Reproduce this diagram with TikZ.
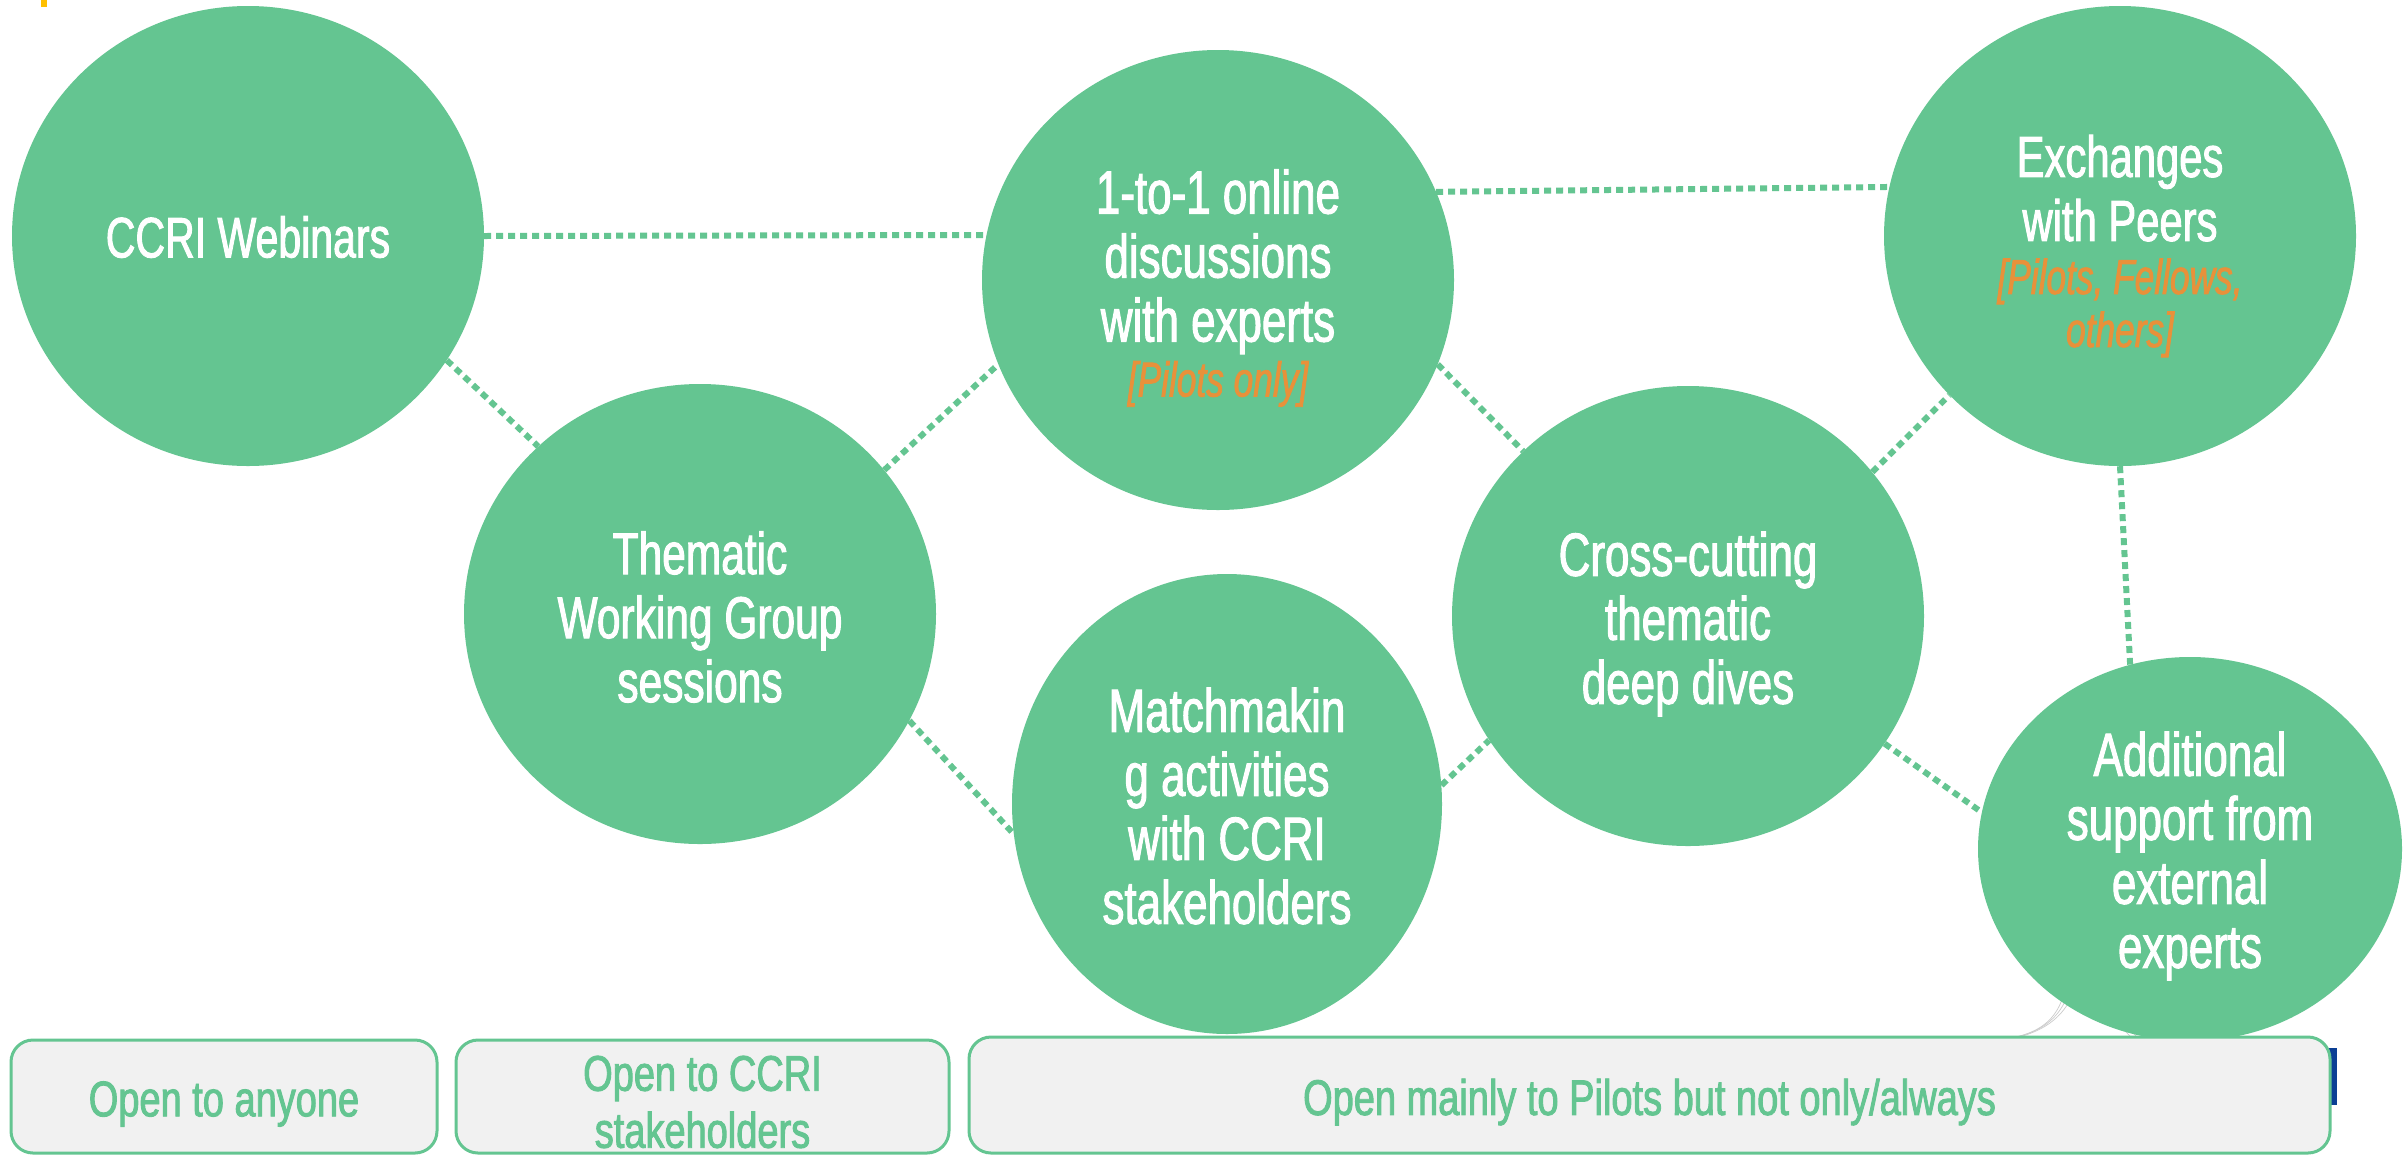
\documentclass[tikz,border=0pt]{standalone}
\usepackage{fontspec}
\setmainfont{Liberation Sans}[FakeStretch=0.8,FakeBold=1.6]
\newfontfamily\bubfont{Liberation Sans}[FakeStretch=0.72,FakeBold=1.6]
\newfontfamily\boxfont{Liberation Sans}[FakeStretch=0.76,FakeBold=1.8]
\usetikzlibrary{shapes.geometric,backgrounds,calc}
\definecolor{bubgreen}{HTML}{64C591}
\definecolor{noteorange}{HTML}{E8913A}
\definecolor{boxgray}{HTML}{F1F1F1}
\definecolor{barblue}{HTML}{0B3F94}
\definecolor{markyellow}{HTML}{FFC000}
\newcommand\orng[1]{{\color{noteorange}\itshape\fontsize{49}{52}\selectfont #1}}
\begin{document}
\begin{tikzpicture}[x=1pt,y=-1pt,
  bub/.style={ellipse, fill=bubgreen, draw=none, inner sep=0pt},
  bubtext/.style={text=white, align=center, inner sep=0pt,
    font=\bubfont\fontsize{61}{64}\selectfont},
  link/.style={draw=bubgreen, line width=6pt, dash pattern=on 7pt off 5pt},
  optbox/.style={rectangle, rounded corners=22pt, draw=bubgreen, line width=3pt,
    fill=boxgray, inner sep=0pt},
  boxtext/.style={text=bubgreen, align=center, inner sep=0pt,
    font=\boxfont\fontsize{50}{57}\selectfont},
  faint/.style={draw=black!20, line width=0.7pt}
]
\useasboundingbox (0,0) rectangle (2405,1157);

% bubbles
\node[bub, minimum width=472pt, minimum height=460pt] (web) at (248,236) {};
\node[bub, minimum width=472pt, minimum height=460pt] (twg) at (700,614) {};
\node[bub, minimum width=472pt, minimum height=460pt] (one) at (1218,280) {};
\node[bub, minimum width=430pt, minimum height=460pt] (match) at (1227,804) {};
\node[bub, minimum width=472pt, minimum height=460pt] (deep) at (1688,616) {};
\node[bub, minimum width=472pt, minimum height=460pt] (peer) at (2120,236) {};
\node[bub, minimum width=424pt, minimum height=384pt] (extra) at (2190,849) {};

% bubble texts
\node[bubtext, font=\bubfont\fontsize{57}{64}\selectfont] (web-t) at (248,237) {CCRI Webinars};
\node[bubtext, font=\bubfont\fontsize{59}{64}\selectfont] (twg-t) at (700,617) {Thematic\\Working Group\\sessions};
\node[bubtext] (one-t) at (1218,288) {1-to-1 online\\discussions\\with experts\\[-9pt]\orng{[Pilots only]}};
\node[bubtext] (match-t) at (1227,806) {Matchmakin\\g activities\\with CCRI\\stakeholders};
\node[bubtext] (deep-t) at (1688,624) {Cross-cutting\\thematic\\deep dives};
\node[bubtext, font=\bubfont\fontsize{58}{64}\selectfont] (peer-t) at (2120,246) {Exchanges\\with Peers\\[-11pt]\orng{[Pilots, Fellows,}\\[-11pt]\orng{others]}};
\node[bubtext] (extra-t) at (2190,856) {Additional\\support from\\external\\experts};

% connectors and small marks behind
\begin{pgfonlayer}{background}
\fill[white] (0,0) rectangle (2405,1157);
\draw[link] (web.0) -- (one.169.5);
\draw[link] (one.22.5) -- (peer.168.7);
\draw[link] (web.-32.6) -- (twg.134.5);
\draw[link] (twg.38.1) -- (one.201.4);
\draw[link] (twg.-27.3) -- (match.188.5);
\draw[link] (one.-21) -- (deep.135.3);
\draw[link] (match.5) -- (deep.212.2);
\draw[link] (deep.38.1) -- (peer.223.5);
\draw[link] (deep.-33.2) -- (extra.170.6);
\draw[link] (peer.south) -- (extra.108);
\fill[barblue] (2329,1048) rectangle (2337,1105);
\fill[markyellow] (41,0) rectangle (47,7);
\draw[faint] (1995,1040) .. controls (2045,1036) and (2060,1015) .. (2066,985);
\draw[faint] (2000,1040) .. controls (2048,1034) and (2063,1012) .. (2070,988);
\draw[faint] (2005,1040) .. controls (2052,1032) and (2066,1010) .. (2074,992);
\draw[faint] (2106,985) .. controls (2110,1010) and (2118,1025) .. (2132,1038);
\draw[faint] (2110,985) .. controls (2114,1008) and (2122,1022) .. (2136,1036);
\end{pgfonlayer}

% audience boxes
\node[optbox, minimum width=426pt, minimum height=113pt] (b1) at (224,1096.5) {};
\node[optbox, minimum width=493pt, minimum height=113pt] (b2) at (702.5,1096.5) {};
\node[optbox, minimum width=1361pt, minimum height=116pt] (b3) at (1649.5,1095) {};
\node[boxtext] (b1-t) at (224,1104) {Open to anyone};
\node[boxtext] (b2-t) at (702.5,1102) {Open to CCRI\\stakeholders};
\node[boxtext] (b3-t) at (1649.5,1102) {Open mainly to Pilots but not only/always};
\end{tikzpicture}
\end{document}
